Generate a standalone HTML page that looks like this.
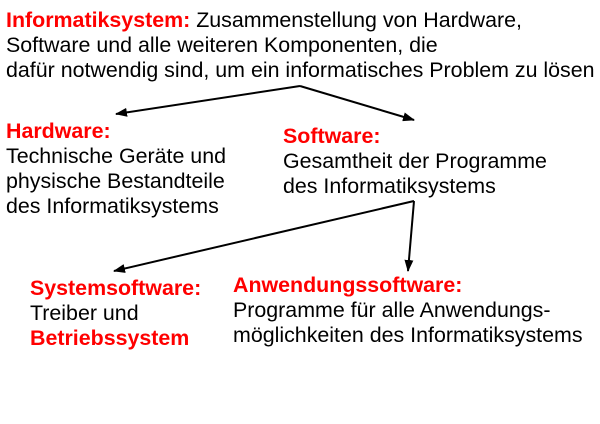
<!DOCTYPE html>
<html><head><meta charset="utf-8"><style>
body{margin:0;width:600px;height:424px;background:#fff;position:relative;overflow:hidden;font-family:"Liberation Sans",sans-serif;font-size:21.4px;color:#000}
.t{position:absolute;line-height:25px;white-space:nowrap}
.r{color:#f00;font-weight:bold}
svg{position:absolute;left:0;top:0}
</style></head><body>
<div class="t" style="left:6px;top:8px"><span class="r">Informatiksystem:</span> Zusammenstellung von Hardware,<br>Software und alle weiteren Komponenten, die<br>dafür notwendig sind, um ein informatisches Problem zu lösen</div>
<div class="t" style="left:6px;top:119px"><span class="r">Hardware:</span><br>Technische Geräte und<br>physische Bestandteile<br>des Informatiksystems</div>
<div class="t" style="left:283px;top:124px"><span class="r">Software:</span><br>Gesamtheit der Programme<br>des Informatiksystems</div>
<div class="t" style="left:30px;top:276px"><span class="r">Systemsoftware:</span><br>Treiber und<br><span class="r">Betriebssystem</span></div>
<div class="t" style="left:233px;top:273px"><span class="r">Anwendungssoftware:</span><br>Programme für alle Anwendungs-<br>möglichkeiten des Informatiksystems</div>
<svg width="600" height="424">
<defs><marker id="a" markerWidth="12" markerHeight="9" refX="11" refY="4.5" orient="auto" markerUnits="userSpaceOnUse"><path d="M0,0 L12,4.5 L0,9z" fill="#000"/></marker></defs>
<g stroke="#000" stroke-width="2" fill="none">
<path d="M300,86 L116,114" marker-end="url(#a)"/>
<path d="M300,86 L414,120" marker-end="url(#a)"/>
<path d="M414,201 L114,271" marker-end="url(#a)"/>
<path d="M414,201 L408,271" marker-end="url(#a)"/>
</g></svg>
</body></html>
